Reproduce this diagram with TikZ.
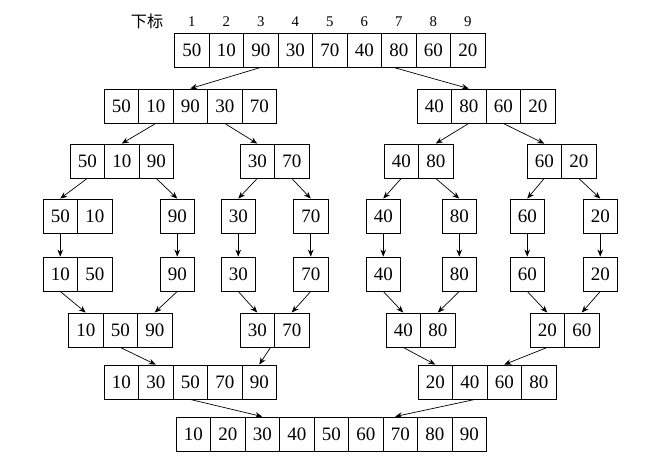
\documentclass[tikz,border=0pt]{standalone}
\usepackage{fontspec}
\setmainfont{Liberation Serif}
\newfontfamily\cjk{Noto Sans CJK SC}
\usetikzlibrary{arrows.meta,positioning}

% one array = a row of cells named <name>-1, <name>-2, ...
\newcommand{\mkarray}[4]{%
  \foreach \v [count=\i] in {#4} {
    \node[cell] (#1-\i) at ({#2+17.25+34.5*(\i-1)}, #3) {\v};
  }}

\begin{document}
\begin{tikzpicture}[x=0.025cm, y=-0.025cm,
    cell/.style={rectangle, draw, line width=0.6pt, minimum width=0.8625cm, minimum height=0.85cm, inner sep=0pt, font=\fontsize{13.5}{15}\selectfont},
    arr/.style={-{Stealth[length=5pt, width=4pt]}, line width=0.5pt},
    idx/.style={font=\fontsize{10.5}{12}\selectfont}
]
\useasboundingbox (0,0) rectangle (658,468);

% === AWAL ===
\mkarray{r1}{174.5}{50}{50,10,90,30,70,40,80,60,20}
\foreach \i in {1,...,9} \node[idx, above=0.03cm of r1-\i] (idx\i) {\i};
\node (xb) [left=0.37cm of idx1, font=\fontsize{11.5}{13}\selectfont] {\cjk 下标};

% === BAGI ===
\mkarray{r2a}{104}{106}{50,10,90,30,70}
\mkarray{r2b}{417}{106}{40,80,60,20}

\mkarray{r3a}{70}{161}{50,10,90}
\mkarray{r3b}{240}{161}{30,70}
\mkarray{r3c}{384}{161}{40,80}
\mkarray{r3d}{527}{161}{60,20}

\mkarray{r4a}{43}{216}{50,10}
\mkarray{r4b}{160}{216}{90}
\mkarray{r4c}{221}{216}{30}
\mkarray{r4d}{293.5}{216}{70}
\mkarray{r4e}{366}{216}{40}
\mkarray{r4f}{442}{216}{80}
\mkarray{r4g}{510}{216}{60}
\mkarray{r4h}{583}{216}{20}

% === GABUNG ===
\mkarray{r5a}{43}{274}{10,50}
\mkarray{r5b}{160}{274}{90}
\mkarray{r5c}{221}{274}{30}
\mkarray{r5d}{293.5}{274}{70}
\mkarray{r5e}{366}{274}{40}
\mkarray{r5f}{442}{274}{80}
\mkarray{r5g}{510}{274}{60}
\mkarray{r5h}{583}{274}{20}

\mkarray{r6a}{68.5}{330}{10,50,90}
\mkarray{r6b}{240}{330}{30,70}
\mkarray{r6c}{386}{330}{40,80}
\mkarray{r6d}{530}{330}{20,60}

\mkarray{r7a}{104}{382}{10,30,50,70,90}
\mkarray{r7b}{418}{382}{20,40,60,80}

\mkarray{r8}{176}{434}{10,20,30,40,50,60,70,80,90}

% panah
\draw[arr] (r1-3.south) -- (r2a-3.north);
\draw[arr] ([xshift=-0.13cm]r1-7.south) -- (r2b-2.north);

\draw[arr] (r2a-2.south) -- (r3a-2.north);
\draw[arr] (r2a-4.south) -- (r3b-1.north);
\draw[arr] (r2b-2.south) -- (r3c-2.north);
\draw[arr] (r2b-3.south) -- (r3d-1.north);

\draw[arr] (r3a-1.south) -- (r4a-1.north);
\draw[arr] (r3a-3.south) -- (r4b-1.north);
\draw[arr] (r3b-1.south) -- (r4c-1.north);
\draw[arr] (r3b-2.south) -- (r4d-1.north);
\draw[arr] (r3c-1.south) -- (r4e-1.north);
\draw[arr] (r3c-2.south) -- (r4f-1.north);
\draw[arr] (r3d-1.south) -- (r4g-1.north);
\draw[arr] (r3d-2.south) -- (r4h-1.north);

\foreach \k in {a,b,c,d,e,f,g,h}
  \draw[arr] (r4\k-1.south) -- (r5\k-1.north);

\draw[arr] (r5a-1.south) -- (r6a-1.north);
\draw[arr] (r5b-1.south) -- (r6a-3.north);
\draw[arr] (r5c-1.south) -- (r6b-1.north);
\draw[arr] (r5d-1.south) -- (r6b-2.north);
\draw[arr] (r5e-1.south) -- (r6c-1.north);
\draw[arr] (r5f-1.south) -- (r6c-2.north);
\draw[arr] (r5g-1.south) -- (r6d-1.north);
\draw[arr] (r5h-1.south) -- (r6d-2.north);

\draw[arr] (r6a-2.south) -- (r7a-2.north);
\draw[arr] ([xshift=-0.11cm]r6b-1.south east) -- (r7a-5.north);
\draw[arr] (r6c-1.south) -- (r7b-1.north);
\draw[arr] (r6d-1.south) -- (r7b-3.north);

\draw[arr] (r7a-3.south) -- (r8-3.north);
\draw[arr] ([xshift=0.13cm]r7b-2.south) -- ([xshift=-0.13cm]r8-7.north);

\end{tikzpicture}
\end{document}
